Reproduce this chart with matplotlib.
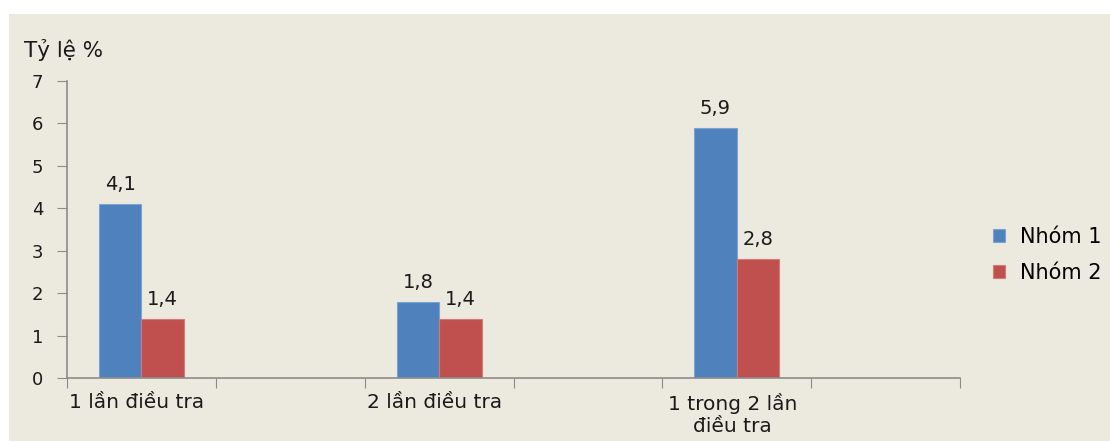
import numpy as np
import matplotlib.pyplot as plt
from matplotlib.patches import Rectangle

# Categories (every other slot is empty, as in the source sheet)
categories = ["1 lần điều tra", "", "2 lần điều tra", "", "1 trong 2 lần\nđiều tra", ""]
group1 = [4.1, None, 1.8, None, 5.9, None]
group2 = [1.4, None, 1.4, None, 2.8, None]
series_names = ["Nhóm 1", "Nhóm 2"]

BG = "#ECE9DF"
BLUE = "#4F81BD"
RED = "#C0504D"
AXIS = "#8C8C8C"

plt.rcParams["font.family"] = ["DejaVu Sans"]

fig = plt.figure(figsize=(11.10, 4.41), dpi=100, facecolor="white")
# beige panel, leaving a thin white margin on top and left
fig.patches.append(Rectangle((9 / 1110, 0), 1, (441 - 14) / 441,
                             transform=fig.transFigure, facecolor=BG,
                             edgecolor="none", zorder=-10))

ax = fig.add_axes([67 / 1110, 1 - 378 / 441, (960 - 67) / 1110, (378 - 81) / 441])
ax.set_facecolor("none")

n = len(categories)
centers = np.arange(n) + 0.5
w = 1 / 3.5

for vals, color, edge, sign, name in [
    (group1, BLUE, "#7FA3D3", -1, series_names[0]),
    (group2, RED, "#D47A77", 1, series_names[1]),
]:
    xs = [c + sign * w / 2 for c, v in zip(centers, vals) if v is not None]
    ys = [v for v in vals if v is not None]
    ax.bar(xs, ys, width=w, color=color, edgecolor=edge, linewidth=0.8, label=name)
    for x, y in zip(xs, ys):
        ax.annotate(f"{y:.1f}".replace(".", ","), (x, y), xytext=(0, 7),
                    textcoords="offset points", ha="center", va="bottom",
                    fontsize=14, color="#1A1A1A")

ax.set_xlim(0, n)
ax.set_ylim(0, 7)
ax.set_yticks(range(8))
ax.tick_params(axis="y", direction="out", length=7, color=AXIS, labelsize=13,
               pad=10, labelcolor="#1A1A1A")

# category boundaries carry the ticks; labels sit at category centers
ax.set_xticks(np.arange(n + 1))
ax.set_xticklabels([])
ax.tick_params(axis="x", direction="out", length=7, color=AXIS)
for c, lab in zip(centers, categories):
    ax.text(c - 0.03, -0.36, lab, ha="center", va="top", fontsize=14.5,
            color="#1A1A1A", linespacing=1.18,
            transform=ax.transData)

for s in ["top", "right"]:
    ax.spines[s].set_visible(False)
for s in ["left", "bottom"]:
    ax.spines[s].set_color(AXIS)
    ax.spines[s].set_linewidth(1.2)

fig.text(24 / 1110, 1 - 50 / 441, "Tỷ lệ %", fontsize=15.5, va="center",
         ha="left", color="#1A1A1A")

fig.legend(loc="center left", bbox_to_anchor=(974 / 1110, 1 - 255 / 441),
           frameon=False, fontsize=15, handlelength=0.6, handleheight=0.6,
           handletextpad=0.7, labelspacing=0.75)

fig.savefig("out.png", dpi=100, facecolor="white")
